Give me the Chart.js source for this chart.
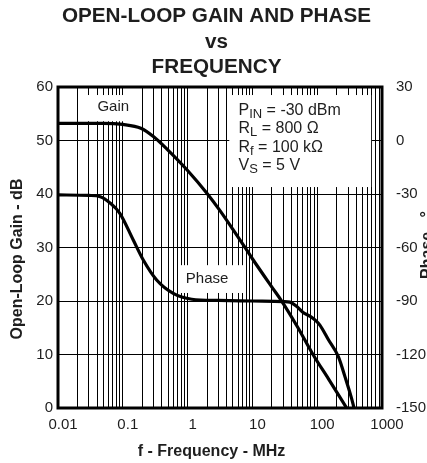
<!DOCTYPE html>
<html>
<head>
<meta charset="utf-8">
<script src="https://cdn.jsdelivr.net/npm/chart.js@4.4.1/dist/chart.umd.min.js"></script>
<style>
  html, body { margin: 0; padding: 0; background: #fff; overflow: hidden; }
</style>
</head>
<body>
<canvas id="chart" width="427" height="463"></canvas>
<script>
const decades = [0.01, 0.1, 1, 10, 100, 1000];
const xTickLabels = ["0.01", "0.1", "1", "10", "100", "1000"];

const gainFreq = [0.01, 0.05, 0.1, 0.19, 0.3, 0.48, 1, 2, 3.16, 5, 8.2, 10, 20, 28.3, 50, 87, 150, 285];
const gainDb   = [53.2, 53.2, 53.0, 52.3, 50.7, 48.4, 44.4, 40.1, 36.9, 33.4, 29.5, 27.9, 22.6, 20, 15.1, 9.9, 5.4, 0];

const phaseFreq = [0.01, 0.03, 0.045, 0.0635, 0.09, 0.145, 0.207, 0.333, 0.6, 1.16, 3, 10, 30, 38, 48, 60, 77, 95, 110, 150, 212, 268, 339, 370];
const phaseDeg  = [-30.5, -30.8, -31.5, -35, -40.8, -55.8, -67, -78.2, -85.7, -89, -89.7, -90, -90.3, -90.6, -93, -96.3, -98.5, -101, -103.5, -111.9, -121.2, -132.4, -144.6, -150];

const conditions = [
  { main: "P", sub: "IN", rest: " = -30 dBm" },
  { main: "R", sub: "L", rest: " = 800 \u03A9" },
  { main: "R", sub: "f", rest: " = 100 k\u03A9" },
  { main: "V", sub: "S", rest: " = 5 V" }
];

// white label boxes, in data units (MHz, dB)
const boxes = [
  { x0: 0.0256, x1: 0.194, y0: 53.6, y1: 58.5 },
  { x0: 0.78, x1: 7.8, y0: 21.5, y1: 26.7 },
  { x0: 4.4, x1: 680, y0: 41.3, y1: 58.5 }
];

const FONT = "'Liberation Sans', Arial, sans-serif";
const TEXT = "#1e1e1e";

const xGrid = [];
for (let i = 0; i < decades.length - 1; i++) {
  for (let m = 1; m <= 9; m++) xGrid.push(Number((decades[i] * m).toPrecision(6)));
}
xGrid.push(decades[decades.length - 1]);

const decor = {
  id: "decor",
  beforeDatasetsDraw(chart) {
    const { ctx } = chart;
    const x = chart.scales.x, y = chart.scales.y;
    ctx.save();
    ctx.fillStyle = "#fff";
    for (const b of boxes) {
      const l = x.getPixelForValue(b.x0), r = x.getPixelForValue(b.x1);
      const t = y.getPixelForValue(b.y1), bt = y.getPixelForValue(b.y0);
      ctx.fillRect(l, t, r - l, bt - t);
    }
    ctx.fillStyle = TEXT;
    ctx.font = "15px " + FONT;
    ctx.textAlign = "center";
    ctx.textBaseline = "middle";
    ctx.fillText("Gain", x.getPixelForValue(0.0713), y.getPixelForValue(56.3));
    ctx.fillText("Phase", x.getPixelForValue(2.0), y.getPixelForValue(24.2));

    ctx.textAlign = "left";
    ctx.textBaseline = "alphabetic";
    let tx0 = x.getPixelForValue(6.1);
    let ty = y.getPixelForValue(54.8);
    for (const c of conditions) {
      let tx = tx0;
      ctx.font = "16px " + FONT;
      ctx.fillText(c.main, tx, ty);
      tx += ctx.measureText(c.main).width;
      ctx.font = "13px " + FONT;
      ctx.fillText(c.sub, tx, ty + 3);
      tx += ctx.measureText(c.sub).width;
      ctx.font = "16px " + FONT;
      ctx.fillText(c.rest, tx, ty);
      ty += 18.4;
    }
    ctx.restore();
  },
  afterDatasetsDraw(chart) {
    const { ctx, chartArea: a } = chart;
    ctx.save();
    ctx.strokeStyle = "#000";
    ctx.lineWidth = 3;
    ctx.strokeRect(a.left, a.top, a.right - a.left, a.bottom - a.top);
    ctx.restore();
  },
  afterDraw(chart) {
    const { ctx, chartArea: a } = chart;
    ctx.save();
    ctx.fillStyle = TEXT;
    ctx.font = "bold 16px " + FONT;
    ctx.textAlign = "center";
    ctx.textBaseline = "middle";
    ctx.fillText("f - Frequency - MHz", (a.left + a.right) / 2 - 8.5, 452);

    ctx.save();
    ctx.translate(17.5, 259);
    ctx.rotate(-Math.PI / 2);
    ctx.fillText("Open-Loop Gain - dB", 0, 0);
    ctx.restore();

    ctx.save();
    ctx.translate(431.5, 245);
    ctx.rotate(-Math.PI / 2);
    ctx.textBaseline = "alphabetic";
    ctx.fillText("Phase - \u00B0", 0, 0);
    ctx.restore();
    ctx.restore();
  }
};

new Chart(document.getElementById("chart"), {
  type: "line",
  data: {
    datasets: [
      {
        label: "Gain",
        data: gainFreq.map((f, i) => ({ x: f, y: gainDb[i] })),
        yAxisID: "y",
        borderColor: "#000",
        borderWidth: 3.2,
        pointRadius: 0,
        cubicInterpolationMode: "monotone"
      },
      {
        label: "Phase",
        data: phaseFreq.map((f, i) => ({ x: f, y: phaseDeg[i] })),
        yAxisID: "y1",
        borderColor: "#000",
        borderWidth: 3.2,
        pointRadius: 0,
        cubicInterpolationMode: "monotone"
      }
    ]
  },
  options: {
    responsive: false,
    animation: false,
    devicePixelRatio: 1,
    layout: { padding: { left: 6, right: 0, top: 0, bottom: 0 } },
    plugins: {
      legend: { display: false },
      tooltip: { enabled: false },
      title: {
        display: true,
        text: ["OPEN-LOOP GAIN AND PHASE", "vs", "FREQUENCY"],
        color: TEXT,
        font: { family: FONT, size: 20.7, weight: "bold", lineHeight: 1.232 },
        padding: { top: 4, bottom: 6.5 }
      }
    },
    scales: {
      x: {
        type: "logarithmic",
        min: 0.01,
        max: 1000,
        afterBuildTicks: s => { s.ticks = xGrid.map(v => ({ value: v })); },
        afterFit: s => { s.height = 55; },
        grid: { color: "#000", lineWidth: 1, drawTicks: false },
        border: { display: false },
        ticks: {
          autoSkip: false,
          maxRotation: 0,
          padding: 8,
          labelOffset: 5,
          color: TEXT,
          font: { family: FONT, size: 15 },
          callback: v => {
            const i = decades.indexOf(v);
            return i >= 0 ? xTickLabels[i] : "";
          }
        }
      },
      y: {
        position: "left",
        min: 0,
        max: 60,
        afterFit: s => { s.width = 52; },
        grid: { color: "#000", lineWidth: 1, drawTicks: false },
        border: { display: false },
        ticks: { stepSize: 10, padding: 5, color: TEXT, font: { family: FONT, size: 15 } }
      },
      y1: {
        position: "right",
        min: -150,
        max: 30,
        afterFit: s => { s.width = 45; },
        grid: { display: false },
        border: { display: false },
        ticks: { stepSize: 30, padding: 6, color: TEXT, font: { family: FONT, size: 15 } }
      }
    }
  },
  plugins: [decor]
});
</script>
</body>
</html>
